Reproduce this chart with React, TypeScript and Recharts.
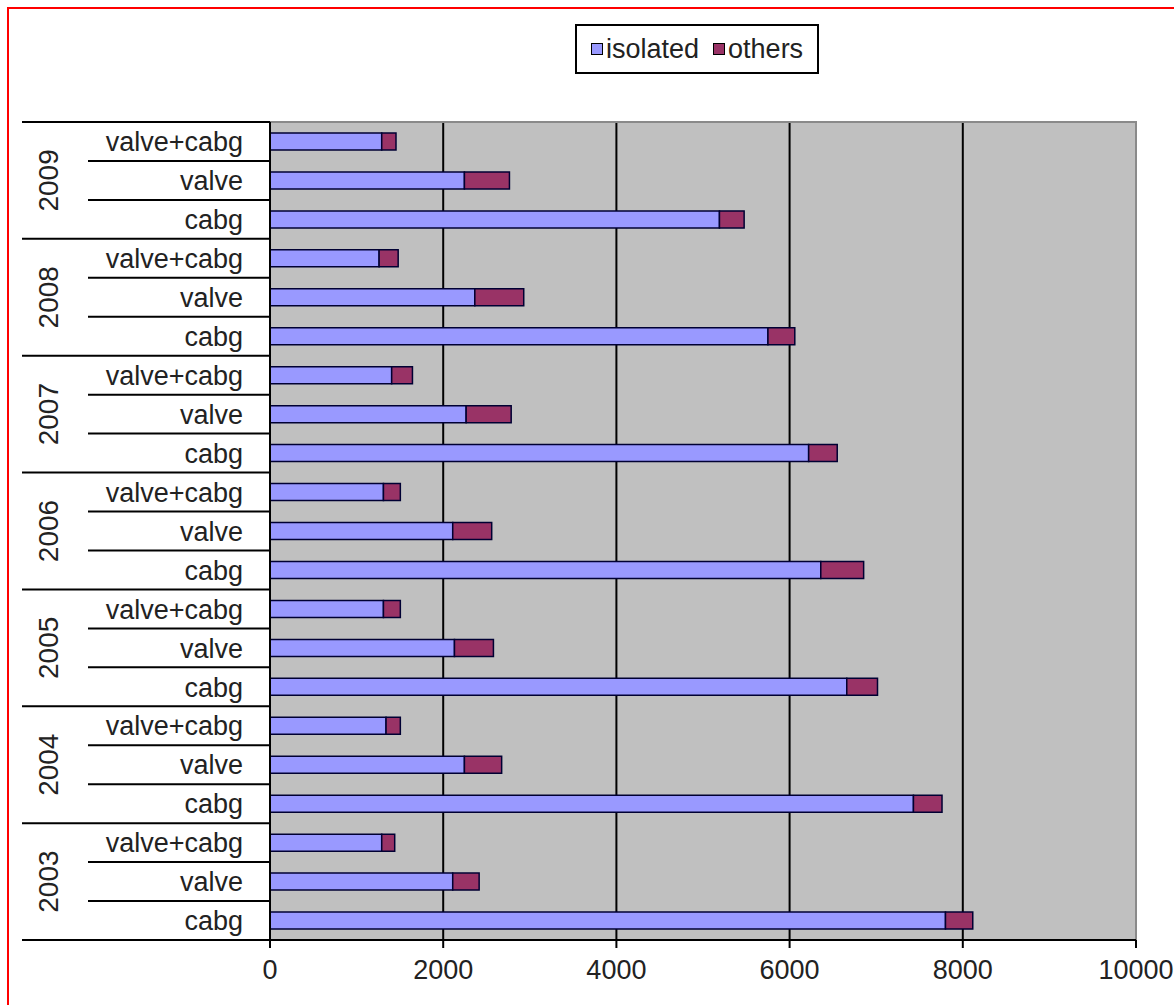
import { BarChart, Bar, XAxis, YAxis, CartesianGrid, Legend, ReferenceArea } from 'recharts'

// years are listed oldest first, values per procedure in the same order
const years = ['2003', '2004', '2005', '2006', '2007', '2008', '2009']
const procedures = ['valve+cabg', 'valve', 'cabg']

const isolatedCabg = [7800, 7430, 6660, 6360, 6220, 5750, 5190]
const othersCabg = [315, 330, 355, 495, 330, 310, 285]
const isolatedValve = [2110, 2245, 2130, 2110, 2265, 2365, 2245]
const othersValve = [305, 430, 450, 450, 520, 565, 520]
const isolatedValveCabg = [1290, 1340, 1310, 1310, 1405, 1260, 1290]
const othersValveCabg = [150, 165, 195, 195, 240, 220, 165]

const xTicks = [0, 2000, 4000, 6000, 8000, 10000]

const isolatedBy: Record<string, number[]> = {
  'valve+cabg': isolatedValveCabg,
  valve: isolatedValve,
  cabg: isolatedCabg,
}
const othersBy: Record<string, number[]> = {
  'valve+cabg': othersValveCabg,
  valve: othersValve,
  cabg: othersCabg,
}

// newest year on top, each year split into its three procedures
const rows = [...years].reverse().flatMap((year) =>
  procedures.map((proc) => {
    const i = years.indexOf(year)
    return {
      key: `${year} ${proc}`,
      year,
      proc,
      isolated: isolatedBy[proc][i],
      others: othersBy[proc][i],
    }
  })
)

const W = 1174
const H = 1005
const margin = { top: 122, right: 38, bottom: 15, left: 22 }
const Y_AXIS_W = 248
const X_AXIS_H = 50
const BAND = (H - margin.top - margin.bottom - X_AXIS_H) / rows.length

const FONT = '"Liberation Sans", Arial, sans-serif'
const TEXT = '#222'

function ProcedureTick(props: any) {
  const { x, y, index } = props
  const row = rows[index]
  if (!row) return null
  const groupEnd = row.proc === procedures[procedures.length - 1]
  const below = y + BAND / 2
  return (
    <g>
      {index === 0 && (
        <line x1={x - Y_AXIS_W} x2={x} y1={y - BAND / 2} y2={y - BAND / 2} stroke="#000" strokeWidth={2} />
      )}
      <line x1={groupEnd ? x - Y_AXIS_W : x - 182} x2={x} y1={below} y2={below} stroke="#000" strokeWidth={2} />
      <text x={x - 27} y={y} dy="0.36em" textAnchor="end" fontSize={27} fontFamily={FONT} fill={TEXT}>
        {row.proc}
      </text>
      {row.proc === 'valve' && (
        <text
          x={x - 222}
          y={y}
          transform={`rotate(-90 ${x - 222} ${y})`}
          textAnchor="middle"
          dy="0.36em"
          fontSize={28}
          fontFamily={FONT}
          fill={TEXT}
        >
          {row.year}
        </text>
      )}
    </g>
  )
}

function LegendBox(props: any) {
  const { payload } = props
  return (
    <div
      style={{
        boxSizing: 'border-box',
        width: '100%',
        height: '100%',
        border: '2px solid #000',
        background: '#fff',
        display: 'flex',
        alignItems: 'center',
        paddingLeft: 14,
        fontFamily: FONT,
        fontSize: 27,
        color: TEXT,
      }}
    >
      {(payload || []).map((entry: any) => (
        <span key={entry.value} style={{ display: 'flex', alignItems: 'center', marginRight: 14 }}>
          <span
            style={{
              display: 'inline-block',
              width: 10,
              height: 10,
              background: entry.color,
              border: '1.5px solid #000',
              marginRight: 3,
            }}
          />
          {entry.value}
        </span>
      ))}
    </div>
  )
}

export default function App() {
  return (
    <div style={{ position: 'absolute', left: 0, top: 0, width: W, height: H, background: '#fff' }}>
      <div
        style={{
          position: 'absolute',
          left: 7,
          top: 7,
          width: W,
          height: H,
          borderLeft: '2px solid #f00',
          borderTop: '2px solid #f00',
        }}
      />
      <BarChart width={W} height={H} data={rows} layout="vertical" margin={margin} barSize={17}>
        <CartesianGrid horizontal={false} stroke="#000" strokeWidth={2} fill="#c0c0c0" fillOpacity={1} />
        <ReferenceArea x1={0} x2={10000} fill="none" stroke="#8a8a8a" strokeWidth={2} />
        <XAxis
          type="number"
          domain={[0, 10000]}
          ticks={xTicks}
          height={X_AXIS_H}
          tick={{ fontSize: 27, fill: TEXT, fontFamily: FONT }}
          tickLine={{ stroke: '#000', strokeWidth: 2 }}
          tickSize={8}
          tickMargin={12}
          axisLine={{ stroke: '#000', strokeWidth: 2 }}
        />
        <YAxis
          type="category"
          dataKey="key"
          width={Y_AXIS_W}
          interval={0}
          tick={<ProcedureTick />}
          tickLine={false}
          tickSize={0}
          tickMargin={0}
          axisLine={{ stroke: '#000', strokeWidth: 2 }}
        />
        <Legend
          layout="horizontal"
          verticalAlign="middle"
          align="center"
          content={<LegendBox />}
          wrapperStyle={{ position: 'absolute', left: 575, top: 24, width: 244, height: 50 }}
        />
        <Bar dataKey="isolated" stackId="a" fill="#9999ff" stroke="#000033" strokeWidth={1.5} isAnimationActive={false} />
        <Bar dataKey="others" stackId="a" fill="#993366" stroke="#000033" strokeWidth={1.5} isAnimationActive={false} />
      </BarChart>
    </div>
  )
}
